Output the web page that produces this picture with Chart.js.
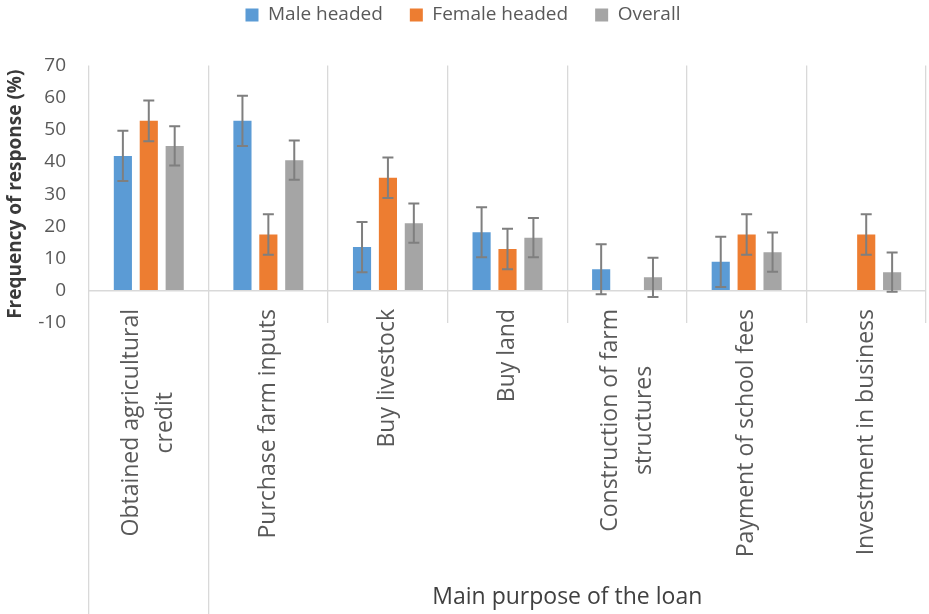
<!DOCTYPE html>
<html lang="en">
<head>
  <meta charset="UTF-8">
  <title>Main purpose of the loan</title>
  <script src="https://cdn.jsdelivr.net/npm/chart.js"></script>
  <style>
    body {
      margin: 0;
      background: #fff;
    }
    #chartContainer {
      width: 929px;
      height: 614px;
    }
  </style>
</head>
<body>
  <div id="chartContainer">
    <canvas id="loanChart"></canvas>
  </div>

  <script>
    const categories = [
      ['Obtained agricultural', 'credit'],
      'Purchase farm inputs',
      'Buy livestock',
      'Buy land',
      ['Construction of farm', 'structures'],
      'Payment of school fees',
      'Investment in business'
    ];
    const seriesNames = ['Male headed', 'Female headed', 'Overall'];
    const maleValues = [41.9, 52.8, 13.6, 18.2, 6.7, 9.0, null];
    const femaleValues = [52.8, 17.5, 35.1, 13.0, null, 17.5, 17.5];
    const overallValues = [45.0, 40.6, 21.0, 16.5, 4.2, 12.0, 5.8];
    const maleErrors = [7.8, 7.8, 7.8, 7.8, 7.8, 7.8, 7.8];
    const femaleErrors = [6.3, 6.3, 6.3, 6.3, 6.3, 6.3, 6.3];
    const overallErrors = [6.1, 6.1, 6.1, 6.1, 6.1, 6.1, 6.1];
    const yTicks = { min: -10, max: 70, step: 10 };
    const xTitle = 'Main purpose of the loan';
    const yTitle = 'Frequency of response (%)';

    const colors = ['#5B9BD5', '#ED7D31', '#A5A5A5'];
    const errors = [maleErrors, femaleErrors, overallErrors];

    Chart.defaults.font.family = "'Open Sans', sans-serif";
    Chart.defaults.color = '#595959';

    // push the plot area down below the legend
    const legendGap = {
      id: 'legendGap',
      beforeInit(chart) {
        const fit = chart.legend.fit;
        chart.legend.fit = function () {
          fit.bind(chart.legend)();
          this.height += 31;
        };
      }
    };

    const errorBars = {
      id: 'errorBars',
      afterDatasetsDraw(chart) {
        const ctx = chart.ctx;
        const y = chart.scales.y;
        ctx.save();
        ctx.strokeStyle = '#7F7F7F';
        ctx.lineWidth = 2;
        chart.data.datasets.forEach((ds, d) => {
          const meta = chart.getDatasetMeta(d);
          meta.data.forEach((bar, i) => {
            const v = ds.data[i];
            if (v == null) return;
            const e = errors[d][i];
            const top = y.getPixelForValue(v + e);
            const bot = y.getPixelForValue(v - e);
            ctx.beginPath();
            ctx.moveTo(bar.x, top);
            ctx.lineTo(bar.x, bot);
            ctx.moveTo(bar.x - 5.5, top);
            ctx.lineTo(bar.x + 5.5, top);
            ctx.moveTo(bar.x - 5.5, bot);
            ctx.lineTo(bar.x + 5.5, bot);
            ctx.stroke();
          });
        });
        ctx.restore();
      }
    };

    // rotated category labels (lines centred like the original) and axis title
    const categoryLabels = {
      id: 'categoryLabels',
      afterDraw(chart) {
        const ctx = chart.ctx;
        const x = chart.scales.x;
        ctx.save();
        ctx.fillStyle = '#595959';
        ctx.font = "23px 'Open Sans', sans-serif";
        ctx.textBaseline = 'middle';
        ctx.textAlign = 'center';
        categories.forEach((label, i) => {
          const lines = Array.isArray(label) ? label : [label];
          const w = Math.max(...lines.map(l => ctx.measureText(l).width));
          const cx = x.getPixelForValue(i);
          ctx.save();
          ctx.translate(cx, 309);
          ctx.rotate(-Math.PI / 2);
          lines.forEach((line, k) => {
            ctx.fillText(line, -w / 2, (k - (lines.length - 1) / 2) * 34);
          });
          ctx.restore();
        });
        ctx.fillStyle = '#404040';
        ctx.font = "23px 'Open Sans', sans-serif";
        ctx.fillText(xTitle, x.getPixelForValue(3.5), 597);
        ctx.restore();
      }
    };

    const ctx = document.getElementById('loanChart').getContext('2d');
    new Chart(ctx, {
      type: 'bar',
      data: {
        labels: categories,
        datasets: [maleValues, femaleValues, overallValues].map((vals, d) => ({
          label: seriesNames[d],
          data: vals,
          backgroundColor: colors[d],
          borderWidth: 0,
          categoryPercentage: 0.65,
          barPercentage: 0.7
        }))
      },
      options: {
        responsive: true,
        maintainAspectRatio: false,
        animation: false,
        layout: { padding: { top: -21.5, right: 3, left: 0, bottom: 0 } },
        plugins: {
          tooltip: { enabled: false },
          legend: {
            position: 'top',
            labels: {
              boxWidth: 13,
              boxHeight: 13,
              padding: 27,
              color: '#595959',
              font: { size: 19 }
            }
          }
        },
        scales: {
          x: {
            border: { display: false },
            ticks: { display: false },
            grid: {
              color: '#D9D9D9',
              lineWidth: 1.3,
              drawTicks: true,
              tickLength: 291,
              tickColor: c => (c.index !== undefined && c.index <= 1) ? '#D9D9D9' : 'rgba(0,0,0,0)'
            },
            afterFit: s => { s.height = 291; }
          },
          y: {
            min: yTicks.min,
            max: yTicks.max,
            border: { display: false },
            ticks: {
              stepSize: yTicks.step,
              padding: 23,
              color: '#595959',
              font: { size: 19 }
            },
            grid: {
              drawTicks: false,
              lineWidth: 1.5,
              color: c => (c.tick && c.tick.value === 0) ? '#D9D9D9' : 'rgba(0,0,0,0)'
            },
            title: {
              display: true,
              text: yTitle,
              color: '#3A3A3A',
              font: { size: 19, weight: 'bold' }
            },
            afterFit: s => { s.width = 89; }
          }
        }
      },
      plugins: [legendGap, errorBars, categoryLabels]
    });
  </script>
</body>
</html>
